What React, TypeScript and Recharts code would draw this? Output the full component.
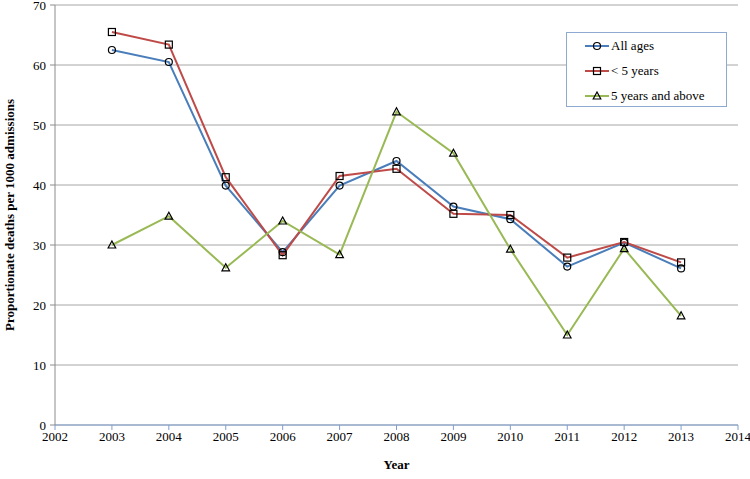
import React from 'react';
import { LineChart, Line, XAxis, YAxis, CartesianGrid, Label } from 'recharts';

const years = [2003, 2004, 2005, 2006, 2007, 2008, 2009, 2010, 2011, 2012, 2013];
const allAges = [62.5, 60.5, 39.9, 28.8, 39.9, 44.0, 36.4, 34.3, 26.4, 30.4, 26.1];
const under5 = [65.5, 63.4, 41.3, 28.3, 41.5, 42.7, 35.2, 35.0, 27.9, 30.5, 27.1];
const over5 = [30.0, 34.8, 26.2, 34.0, 28.4, 52.2, 45.3, 29.3, 15.0, 29.4, 18.2];
const xTicks = [2002, 2003, 2004, 2005, 2006, 2007, 2008, 2009, 2010, 2011, 2012, 2013, 2014];
const yTicks = [0, 10, 20, 30, 40, 50, 60, 70];

const data = years.map((y, i) => ({ year: y, all: allAges[i], u5: under5[i], o5: over5[i] }));

const FONT = "'Times New Roman', 'Liberation Serif', serif";
const BLUE = '#4a7ebb';
const RED = '#be4b48';
const GREEN = '#98b954';

type Shape = 'circle' | 'square' | 'triangle';

const Marker = ({ cx, cy, shape }: { cx: number; cy: number; shape: Shape }) => {
  if (cx == null || cy == null) return null;
  const common = { fill: 'none', stroke: '#000', strokeWidth: 1.2 };
  if (shape === 'circle') return <circle cx={cx} cy={cy} r={3.5} {...common} />;
  if (shape === 'square') return <rect x={cx - 3.5} y={cy - 3.5} width={7} height={7} {...common} />;
  return <polygon points={`${cx},${cy - 4} ${cx - 3.8},${cy + 3} ${cx + 3.8},${cy + 3}`} {...common} />;
};

const makeDot = (shape: Shape) => (props: any) => (
  <Marker key={`${shape}-${props.index}`} cx={props.cx} cy={props.cy} shape={shape} />
);

const legendItems: { label: string; color: string; shape: Shape }[] = [
  { label: 'All ages', color: BLUE, shape: 'circle' },
  { label: '< 5 years', color: RED, shape: 'square' },
  { label: '5 years and above', color: GREEN, shape: 'triangle' },
];

const tickStyle = { fill: '#000', fontFamily: FONT, fontSize: 13 };

export default function App() {
  return (
    <div style={{ position: 'absolute', left: 0, top: 0, width: 750, height: 479, background: '#fff', fontFamily: FONT }}>
      <LineChart width={750} height={479} data={data} margin={{ top: 5, right: 12, bottom: 0, left: 0 }} style={{ fontFamily: FONT }}>
        <CartesianGrid vertical={false} stroke="#a6a6a6" strokeWidth={1} />
        <XAxis
          dataKey="year"
          type="number"
          domain={[2002, 2014]}
          ticks={xTicks}
          interval={0}
          height={54}
          stroke="#7f9fcf"
          tickSize={5}
          tickMargin={2}
          tick={tickStyle}
        >
          <Label value="Year" position="insideBottom" offset={10} style={{ fontFamily: FONT, fontSize: 13, fontWeight: 'bold', fill: '#000' }} />
        </XAxis>
        <YAxis
          type="number"
          domain={[0, 70]}
          ticks={yTicks}
          interval={0}
          width={55}
          stroke="#8c8c8c"
          tickSize={5}
          tickMargin={4}
          tick={tickStyle}
        >
          <Label
            value="Proportionate deaths per 1000 admissions"
            angle={-90}
            position="insideLeft"
            offset={0}
            dx={9}
            style={{ fontFamily: FONT, fontSize: 13, fontWeight: 'bold', fill: '#000', textAnchor: 'middle' }}
          />
        </YAxis>
        <Line dataKey="all" stroke={BLUE} strokeWidth={2} dot={makeDot('circle')} isAnimationActive={false} />
        <Line dataKey="u5" stroke={RED} strokeWidth={2} dot={makeDot('square')} isAnimationActive={false} />
        <Line dataKey="o5" stroke={GREEN} strokeWidth={2} dot={makeDot('triangle')} isAnimationActive={false} />
      </LineChart>
      <div
        style={{
          position: 'absolute',
          left: 566,
          top: 32,
          width: 161,
          height: 75,
          boxSizing: 'border-box',
          border: '1px solid #8eaad0',
          background: '#fff',
          fontFamily: FONT,
          fontSize: 13,
          color: '#000',
          paddingTop: 0,
        }}
      >
        {legendItems.map((it) => (
          <div key={it.label} style={{ display: 'flex', alignItems: 'center', height: 25 }}>
            <svg width={24} height={10} style={{ marginLeft: 18, marginRight: 2 }}>
              <line x1={0} y1={5} x2={24} y2={5} stroke={it.color} strokeWidth={2} />
              <Marker cx={12} cy={5} shape={it.shape} />
            </svg>
            <span>{it.label}</span>
          </div>
        ))}
      </div>
    </div>
  );
}
